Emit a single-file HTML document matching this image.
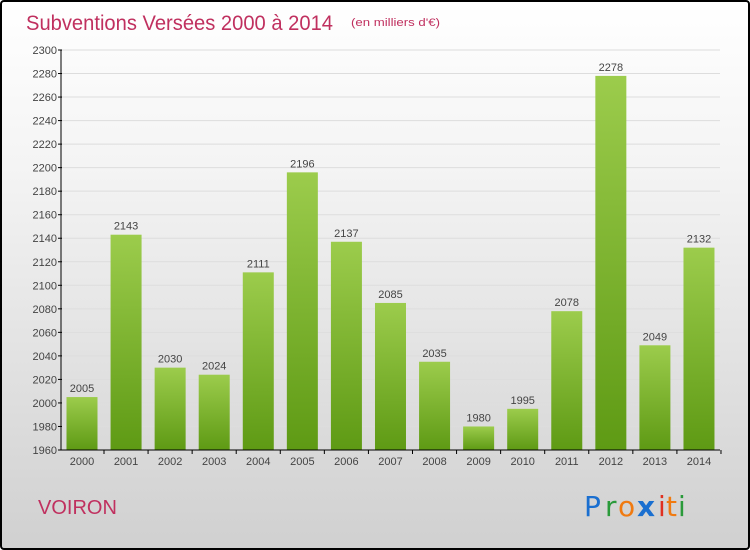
<!DOCTYPE html>
<html><head><meta charset="utf-8"><style>
body{margin:0;width:750px;height:550px;overflow:hidden;font-family:"Liberation Sans",sans-serif}
#wrap{position:absolute;left:0;top:0;width:746px;height:546px;border:2px solid #000;border-radius:4px;background:linear-gradient(#ffffff,#f4f4f4 30%,#d0d0d0)}
</style></head><body>
<div id="wrap">
<svg width="746" height="546" viewBox="2 2 746 546" style="position:absolute;left:0;top:0" id="svg">
<text x="26" y="30" font-size="21" fill="#c0305f" textLength="307" lengthAdjust="spacingAndGlyphs">Subventions Versées 2000 à 2014</text>
<text x="351" y="26" font-size="11" fill="#c0305f" textLength="89" lengthAdjust="spacingAndGlyphs">(en milliers d'€)</text>
<text x="38" y="514" font-size="20" fill="#c0305f">VOIRON</text>
<g font-size="28" font-family="'DejaVu Sans',sans-serif">
<text x="584" y="516" fill="#1a6fd0">P</text><text x="605" y="516" fill="#2a9a3a">r</text><text x="618" y="516" fill="#f07a10">o</text><text x="637" y="516" fill="#1a6fd0" font-weight="bold">x</text><text x="658" y="516" fill="#e03020">i</text><text x="666" y="516" fill="#f07a10">t</text><text x="678" y="516" fill="#2a9a3a">i</text>
</g>
<defs><linearGradient id="bg" x1="0" y1="0" x2="0" y2="1"><stop offset="0" stop-color="#9ccc4c"/><stop offset="1" stop-color="#5e9a14"/></linearGradient></defs>
<g id="grid"></g><g id="bars"></g><g id="axes"></g>
</svg></div>
<script>
const years=["2000","2001","2002","2003","2004","2005","2006","2007","2008","2009","2010","2011","2012","2013","2014"];
const values=[2005,2143,2030,2024,2111,2196,2137,2085,2035,1980,1995,2078,2278,2049,2132];
const yTicks=[1960,1980,2000,2020,2040,2060,2080,2100,2120,2140,2160,2180,2200,2220,2240,2260,2280,2300];
const NS="http://www.w3.org/2000/svg";
const y=v=>450-(v-1960)*400/340;
const x=i=>82+i*44.07;
function mk(t,a,p){const e=document.createElementNS(NS,t);for(const k in a)e.setAttribute(k,a[k]);p.appendChild(e);return e;}
const G=document.getElementById('grid'),B=document.getElementById('bars'),A=document.getElementById('axes');
yTicks.forEach(v=>{
 const l=mk('line',{x1:61,x2:720,y1:y(v),y2:y(v),stroke:'#dddddd','stroke-width':1},G);
 
 
 const t=mk('line',{x1:58,x2:62,y1:y(v),y2:y(v),stroke:'#000'},A);
 
 
 const tx=mk('text',{x:57,y:y(v)+4,'font-size':11,fill:'#444','text-anchor':'end'},A);tx.textContent=v;
 
 
});
values.forEach((v,i)=>{
 const r=mk('rect',{x:x(i)-15.5,y:y(v),width:31,height:450-y(v),fill:'url(#bg)'},B);
 
 
 const t=mk('text',{x:x(i),y:y(v)-5,'font-size':11,fill:'#444','text-anchor':'middle'},B);t.textContent=v;
 
 
 const xt=mk('text',{x:x(i),y:465,'font-size':11,fill:'#444','text-anchor':'middle'},A);xt.textContent=years[i];
 
 
 const tk=mk('line',{x1:x(i)+22,x2:x(i)+22,y1:450,y2:454,stroke:'#000'},A);
 
 
});
const ya=mk('line',{x1:61,x2:61,y1:50,y2:450,stroke:'#000'},A);


const xa=mk('line',{x1:61,x2:720,y1:450,y2:450,stroke:'#000'},A);


</script>
</body></html>
